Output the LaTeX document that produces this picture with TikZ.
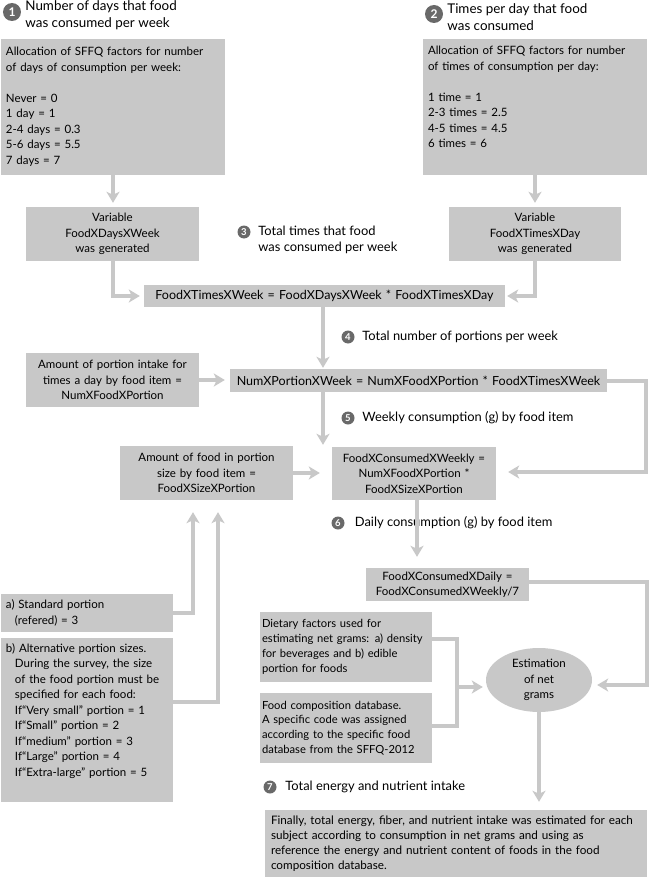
\documentclass[tikz,border=0pt]{standalone}
\usepackage{fontspec}
\setmainfont{Lato}
\usepackage{tikz}
\usetikzlibrary{shapes, arrows.meta, positioning}
\definecolor{boxgray}{RGB}{200,200,200}
\definecolor{linegray}{RGB}{200,200,200}
\definecolor{numgray}{RGB}{105,105,105}
\newcommand{\bxfont}{\fontsize{11.5}{15.5}\selectfont}
\newcommand{\eqfont}{\fontsize{12.5}{15.5}\selectfont}
\newcommand{\smfont}{\fontsize{11.2}{14.8}\selectfont}
\newcommand{\stfont}{\fontsize{12.9}{16}\selectfont}
\newcommand{\hdfont}{\fontsize{13.4}{17}\selectfont}
\tikzstyle{infobox} = [rectangle, fill=boxgray, inner xsep=5pt, inner ysep=0pt, align=left, font=\bxfont]
\tikzstyle{varbox} = [rectangle, fill=boxgray, inner xsep=3pt, inner ysep=0pt, align=center, font=\bxfont]
\tikzstyle{netbox} = [ellipse, fill=boxgray, inner sep=0pt, minimum width=106pt, minimum height=64pt, align=center, font=\bxfont]
\tikzstyle{bignum} = [circle, fill=numgray, text=white, inner sep=0pt, minimum size=18pt, font=\bfseries\fontsize{12}{12}\selectfont]
\tikzstyle{smallnum} = [circle, fill=numgray, text=white, inner sep=0pt, minimum size=13pt, font=\bfseries\fontsize{9.5}{9.5}\selectfont]
\tikzstyle{bigtitle} = [inner sep=0pt, align=left, font=\hdfont]
\tikzstyle{smalltitle} = [inner sep=0pt, align=left, font=\stfont]
\tikzstyle{flow} = [draw=linegray, line width=4pt, -{Stealth[length=11pt, width=13pt, inset=3pt]}]
\tikzstyle{rail} = [draw=linegray, line width=4pt]
\begin{document}
\begin{tikzpicture}[node distance=100pt]
\useasboundingbox (-113pt,107pt) rectangle (536pt,-771pt);
% inputs of the questionnaire
\node (box1) [infobox, text width=214pt, minimum height=136pt] {Allocation of SFFQ factors for number\\of days of consumption per week:\\[15.5pt]Never = 0\\1 day = 1\\2-4 days = 0.3\\5-6 days = 5.5\\7 days = 7};
\node (box2) [infobox, right of=box1, xshift=322pt, text width=214pt, minimum height=136pt] {Allocation of SFFQ factors for number\\of times of consumption per day:\\[15.5pt]1 time = 1\\2-3 times = 2.5\\4-5 times = 4.5\\6 times = 6\\\strut};
\node (n1) [bignum, above of=box1, xshift=-101pt, yshift=-5pt] {1};
\node (t1) [bigtitle, right=4pt of n1, yshift=-3.5pt] {Number of days that food\\was consumed per week};
\node (n2) [bignum, above of=box2, xshift=-101pt, yshift=-7pt] {2};
\node (t2) [bigtitle, right=4pt of n2, yshift=-3.5pt] {Times per day that food\\was consumed};
% generated variables
\node (varDays) [varbox, below of=box1, xshift=-0.5pt, yshift=-27pt, text width=167pt, minimum height=54pt] {Variable\\FoodXDaysXWeek\\was generated};
\node (varTimes) [varbox, below of=box2, yshift=-27pt, text width=166pt, minimum height=54pt] {Variable\\FoodXTimesXDay\\was generated};
\node (timesWeek) [varbox, font=\eqfont, below of=varDays, xshift=212pt, yshift=38pt, text width=355pt, minimum height=22pt] {FoodXTimesXWeek = FoodXDaysXWeek * FoodXTimesXDay};
\node (n3) [smallnum, right of=varDays, xshift=31.5pt, yshift=2pt] {3};
\node (t3) [smalltitle, right=7.5pt of n3, yshift=-8pt] {Total times that food\\was consumed per week};
% portions
\node (portionIntake) [varbox, below of=varDays, yshift=-46pt, text width=167pt, minimum height=54pt] {Amount of portion intake for\\times a day by food item =\\NumXFoodXPortion};
\node (portionWeek) [varbox, font=\eqfont, right of=portionIntake, xshift=206pt, yshift=-0.5pt, text width=371pt, minimum height=23pt] {NumXPortionXWeek = NumXFoodXPortion * FoodXTimesXWeek};
\node (n4) [smallnum, below of=timesWeek, xshift=23.5pt, yshift=59pt] {4};
\node (t4) [smalltitle, right=7.5pt of n4] {Total number of portions per week};
\node (sizePortion) [varbox, below of=portionIntake, xshift=94pt, yshift=7pt, text width=167pt, minimum height=54pt] {Amount of food in portion\\size by food item =\\FoodXSizeXPortion};
\node (consWeekly) [varbox, right of=sizePortion, xshift=107.5pt, yshift=-0.5pt, text width=158pt, minimum height=53pt] {FoodXConsumedXWeekly =\\NumXFoodXPortion *\\FoodXSizeXPortion};
\node (n5) [smallnum, below of=portionWeek, xshift=-70.5pt, yshift=62.5pt] {5};
\node (t5) [smalltitle, right=7.5pt of n5] {Weekly consumption (g) by food item};
\node (consDaily) [varbox, below of=consWeekly, xshift=33.5pt, yshift=-11pt, text width=157pt, minimum height=33pt] {FoodXConsumedXDaily =\\FoodXConsumedXWeekly/7};
\node (n6) [smallnum, below of=consWeekly, xshift=-76pt, yshift=50.5pt] {6};
\node (t6) [smalltitle, right=10pt of n6] {Daily consumption (g) by food item};
% portion sizes
\node (standard) [infobox, below of=sizePortion, xshift=-119.5pt, yshift=-40pt, text width=162pt, minimum height=38pt] {a) Standard portion\\\hspace*{9pt}(refered) = 3};
\node (alt) [infobox, below of=standard, yshift=-7pt, text width=162pt, minimum height=164pt] {b) Alternative portion sizes.\\\hspace*{9pt}During the survey, the size\\\hspace*{9pt}of the food portion must be\\\hspace*{9pt}specified for each food:\\\hspace*{9pt}If“Very small” portion = 1\\\hspace*{9pt}If“Small” portion = 2\\\hspace*{9pt}If“medium” portion = 3\\\hspace*{9pt}If“Large” portion = 4\\\hspace*{9pt}If“Extra-large” portion = 5\\\strut};
% net grams and final intake
\node (dietary) [infobox, font=\smfont, inner xsep=2pt, below of=consWeekly, xshift=-68pt, yshift=-73.5pt, text width=168pt, minimum height=70pt] {Dietary factors used for\\estimating net grams: a) density\\for beverages and b) edible\\portion for foods};
\node (foodComp) [infobox, font=\smfont, inner xsep=2pt, below of=dietary, yshift=19pt, text width=168pt, minimum height=70pt] {Food composition database.\\A specific code was assigned\\according to the specific food\\database from the SFFQ-2012};
\node (netGrams) [netbox, right of=dietary, xshift=93pt, yshift=-33pt] {Estimation\\of net\\grams};
\node (n7) [smallnum, below of=foodComp, xshift=-76pt, yshift=41pt] {7};
\node (t7) [smalltitle, right=8.5pt of n7] {Total energy and nutrient intake};
\node (final) [infobox, font=\fontsize{11.7}{14.8}\selectfont, inner xsep=6pt, below of=netGrams, xshift=-83pt, yshift=-63.5pt, text width=370pt, minimum height=67pt] {Finally, total energy, fiber, and nutrient intake was estimated for each\\subject according to consumption in net grams and using as\\reference the energy and nutrient content of foods in the food\\composition database.};
% connectors
\draw [flow, shorten >=4pt] (box1.south) -- (box1.south |- varDays.north);
\draw [flow, shorten >=4pt] (box2.south) -- (box2.south |- varTimes.north);
\draw [flow, shorten >=4pt] (varDays.south) |- (timesWeek.west);
\draw [flow, shorten >=2pt] (varTimes.south) |- (timesWeek.east);
\draw [flow, shorten >=1pt] ([xshift=-1.5pt]timesWeek.south) -- ([xshift=-1.5pt]timesWeek.south |- portionWeek.north);
\draw [flow, shorten >=5pt] (portionIntake.east) -- (portionIntake.east -| portionWeek.west);
\draw [flow, shorten >=2pt] ([xshift=-1.5pt]timesWeek.south |- portionWeek.south) -- ([xshift=-1.5pt]timesWeek.south |- consWeekly.north);
\draw [flow, shorten >=12pt] (portionWeek.east) -- ++(39pt,0) |- ([yshift=1.5pt]consWeekly.east);
\draw [flow, shorten >=12pt] (sizePortion.east) -- (sizePortion.east -| consWeekly.west);
\draw [flow, shorten >=12pt] (standard.east) -| ([xshift=-13.5pt]sizePortion.south);
\draw [flow, shorten >=12pt] ([yshift=18pt]alt.east) -| ([xshift=11.5pt]sizePortion.south);
\draw [flow, shorten >=11pt] ([xshift=3pt]consWeekly.south) -- ([xshift=3pt]consWeekly.south |- consDaily.north);
\draw [flow, shorten >=5pt] ([yshift=2.5pt]consDaily.east) -- ++(118pt,0) |- ([yshift=-5pt]netGrams.east);
\draw [rail] ([yshift=8pt]dietary.east) -- ++(25pt,0) |- ([yshift=2pt]foodComp.east);
\coordinate (merge) at ([xshift=25pt,yshift=-40pt]dietary.east);
\draw [flow, shorten >=3pt] (merge) -- (merge -| netGrams.west);
\draw [flow, shorten >=8pt] (netGrams.south) -- (netGrams.south |- final.north);
\end{tikzpicture}
\end{document}
